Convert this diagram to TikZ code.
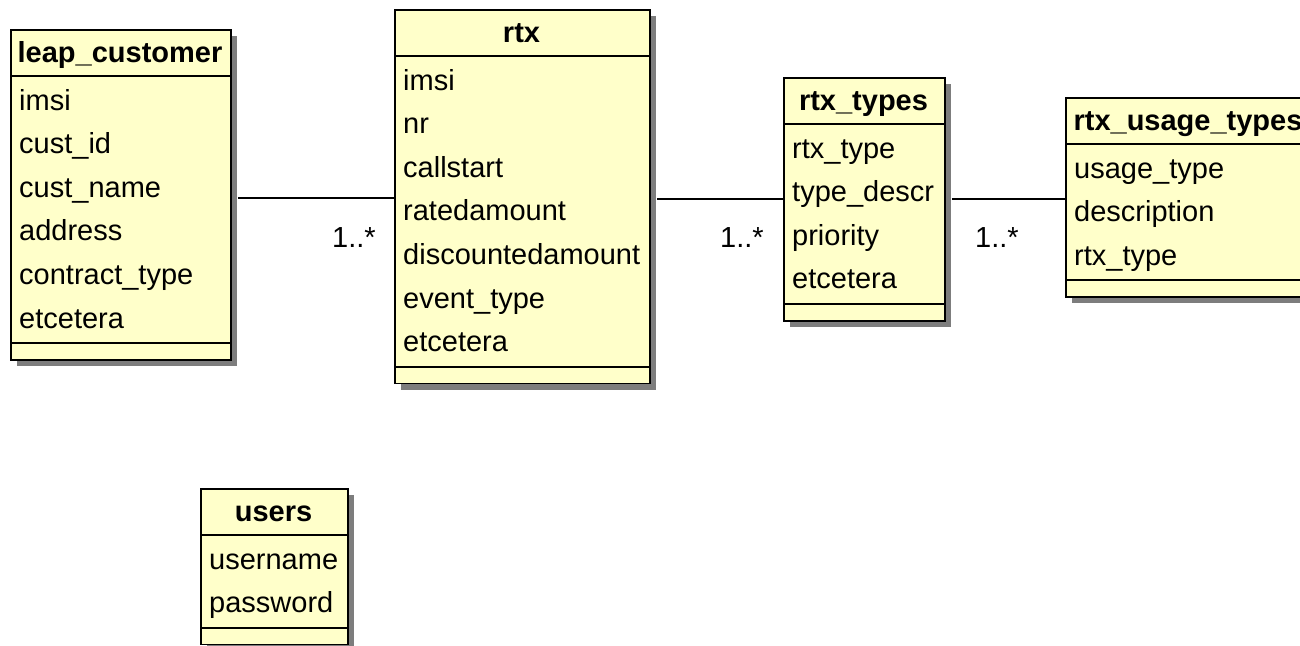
\documentclass[tikz,border=0pt]{standalone}
\usepackage{fontspec}
\setmainfont{Liberation Sans}
\usetikzlibrary{shadows}
\definecolor{umlfill}{RGB}{255,255,202}
\definecolor{umlshadow}{RGB}{125,125,125}
\tikzset{
  erframe/.style={draw=black, line width=1.8pt, fill=umlfill, inner sep=0pt, rectangle,
    drop shadow={shadow xshift=6pt, shadow yshift=-6pt, fill=umlshadow, opacity=1}},
  ertitle/.style={anchor=base, inner sep=0pt, font=\fontsize{29}{34}\selectfont\bfseries},
  errow/.style={anchor=base west, inner sep=0pt, font=\fontsize{29}{34}\selectfont},
  erline/.style={line width=1.8pt},
  conn/.style={line width=1.8pt},
  mult/.style={anchor=base west, inner sep=0pt, font=\fontsize{29}{34}\selectfont}
}
% #1 name, #2 left, #3 top, #4 width, #5 number of rows, #6 title, #7 rows
\newcommand{\erbox}[7]{%
  \pgfmathsetmacro\erB{#3+81+43.6*(#5-1)+15}%
  \pgfmathsetmacro\erE{\erB+16}%
  \pgfmathsetmacro\erH{\erE-#3}%
  \node[erframe, minimum width=#4pt, minimum height=\erH pt, anchor=north west] (#1) at (#2,#3) {};
  \node[ertitle] (#1-t) at ({#2+#4/2},{#3+33}) {#6};
  \draw[erline] (#2,#3+47) -- ++(#4,0);
  \foreach \r [count=\i from 0] in {#7} {
    \node[errow] (#1-r\i) at ({#2+9},{#3+81+43.6*\i}) {\r};
  }
  \draw[erline] (#2,\erB) -- ++(#4,0);
}
\begin{document}
\begin{tikzpicture}[x=1pt, y=-1pt]
\useasboundingbox (0,0) rectangle (1300,645);
\clip (0,0) rectangle (1300,645);
\fill[white] (0,0) rectangle (1300,645);

\erbox{leap}{10}{29}{220}{6}{leap\_customer}{imsi,cust\_id,cust\_name,address,contract\_type,etcetera}
\erbox{rtx}{394}{9}{255}{7}{rtx}{imsi,nr,callstart,ratedamount,discountedamount,event\_type,etcetera}
\erbox{types}{783}{77}{161}{4}{rtx\_types}{rtx\_type,type\_descr,priority,etcetera}
\erbox{usage}{1065}{97}{246}{3}{rtx\_usage\_types}{usage\_type,description,rtx\_type}
\erbox{users}{200}{488}{147}{2}{users}{username,password}

\coordinate (j1) at (0,198);
\coordinate (j2) at (0,199);
\draw[conn] ([xshift=6pt]leap.east |- j1) -- (rtx.west |- j1);
\draw[conn] ([xshift=6pt]rtx.east |- j2) -- (types.west |- j2);
\draw[conn] ([xshift=6pt]types.east |- j2) -- (usage.west |- j2);

\node[mult] (m1) at (332,247) {1..*};
\node[mult] (m2) at (720,247) {1..*};
\node[mult] (m3) at (975,247) {1..*};
\end{tikzpicture}
\end{document}
